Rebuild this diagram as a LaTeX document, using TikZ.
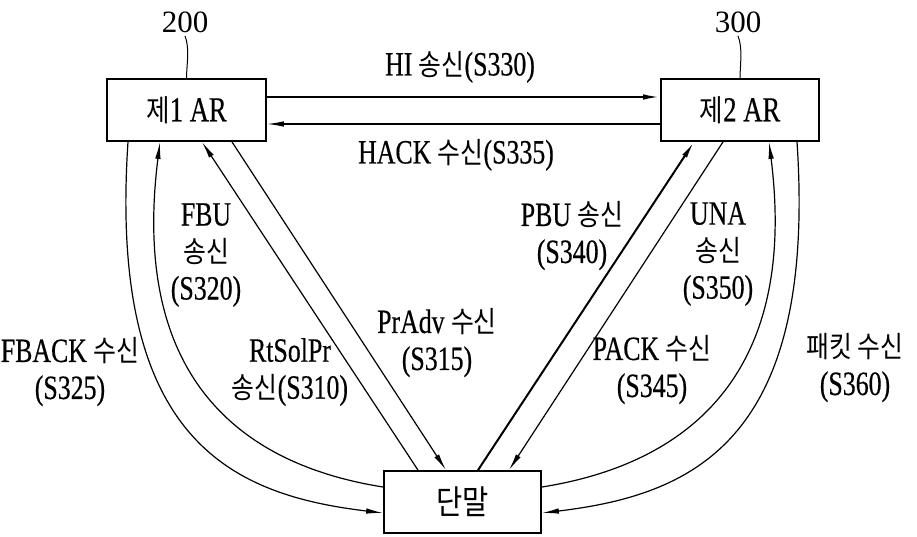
\documentclass[tikz,border=0pt]{standalone}
\usepackage{fontspec}
\setmainfont[FakeStretch=0.76,FakeBold=0.4]{Liberation Serif}
\newfontfamily\kor[FakeStretch=0.85,Scale=0.86]{Noto Sans CJK KR}
\newfontfamily\numf{Liberation Serif}
\usetikzlibrary{arrows.meta}
\newcommand\ko[1]{{\kor #1}}
\begin{document}
\begin{tikzpicture}[x=1pt,y=-1pt,
  box/.style={draw,line width=1.8pt,minimum width=159pt,minimum height=62pt,inner sep=0pt,font=\fontsize{35}{35}\selectfont},
  lbl/.style={align=center,font=\fontsize{34}{37}\selectfont,inner sep=0pt},
  ln/.style={line width=1.2pt},
  lnb/.style={line width=2pt},
  tip/.style={-{Latex[length=17pt,width=5.5pt]}},
  rtip/.style={{Latex[length=17pt,width=5.5pt]}-},
]
\useasboundingbox (0,0) rectangle (917,536);

% boxes
\node[box] (ar1) at (186.5,110) {\ko{제}1 AR};
\node[box,minimum width=158pt] (ar2) at (740,110) {\ko{제}2 AR};
\node[box,minimum width=157pt] (ue) at (462.5,502) {\fontsize{39}{39}\selectfont\ko{단말}};

% reference numbers
\node[font=\numf\fontsize{31}{31}\selectfont] (n200) at (185,22) {200};
\node[font=\numf\fontsize{31}{31}\selectfont] (n300) at (738,22) {300};
\draw[line width=1pt] (n200.south) .. controls +(5,12) and +(0,-12) .. (ar1.north);
\draw[line width=1pt] (n300.south) .. controls +(5,12) and +(0,-12) .. (ar2.north);

% AR <-> AR
\draw[lnb,tip] ([yshift=13pt]ar1.east) -- ([yshift=13pt]ar2.west);
\draw[ln,rtip] ([yshift=-14pt]ar1.east) -- ([yshift=-14pt]ar2.west);

% AR1 <-> terminal
\draw[ln,tip] ([xshift=-58.5pt]ar1.south) .. controls +(-20,300) and +(-150,-18) .. ([yshift=-11pt]ue.west);
\draw[ln,rtip] ([xshift=-26.5pt]ar1.south) .. controls +(-30,239) and +(-139,-22) .. ([yshift=15pt]ue.west);
\draw[ln,rtip] ([xshift=15.5pt]ar1.south) -- ([xshift=-44.5pt]ue.north);
\draw[ln,tip] ([xshift=45.5pt]ar1.south) -- ([xshift=-16.5pt]ue.north);

% AR2 <-> terminal
\draw[lnb,tip] ([xshift=15.5pt]ue.north) -- ([xshift=-46pt]ar2.south);
\draw[ln,tip] ([xshift=-17pt]ar2.south) -- ([xshift=46.5pt]ue.north);
\draw[ln,rtip] ([xshift=29pt]ar2.south) .. controls +(30,239) and +(139,-22) .. ([yshift=15pt]ue.east);
\draw[ln,tip] ([xshift=57pt]ar2.south) .. controls +(20,300) and +(150,-18) .. ([yshift=-11pt]ue.east);

% labels
\node[lbl] (t330) at (460,67) {HI \ko{송신}(S330)};
\node[lbl] (t335) at (456,155) {HACK \ko{수신}(S335)};
\node[lbl] (t320) at (206,255) {FBU\\\ko{송신}\\(S320)};
\node[lbl] (t325) at (70,372) {FBACK \ko{수신}\\(S325)};
\node[lbl] (t310) at (290,372) {RtSolPr\\\ko{송신}(S310)};
\node[lbl] (t315) at (437,343) {PrAdv \ko{수신}\\(S315)};
\node[lbl] (t340) at (572,236) {PBU \ko{송신}\\(S340)};
\node[lbl] (t350) at (718,254) {UNA\\\ko{송신}\\(S350)};
\node[lbl] (t345) at (652,370) {PACK \ko{수신}\\(S345)};
\node[lbl] (t360) at (855,368) {\ko{패킷 수신}\\(S360)};
\end{tikzpicture}
\end{document}
